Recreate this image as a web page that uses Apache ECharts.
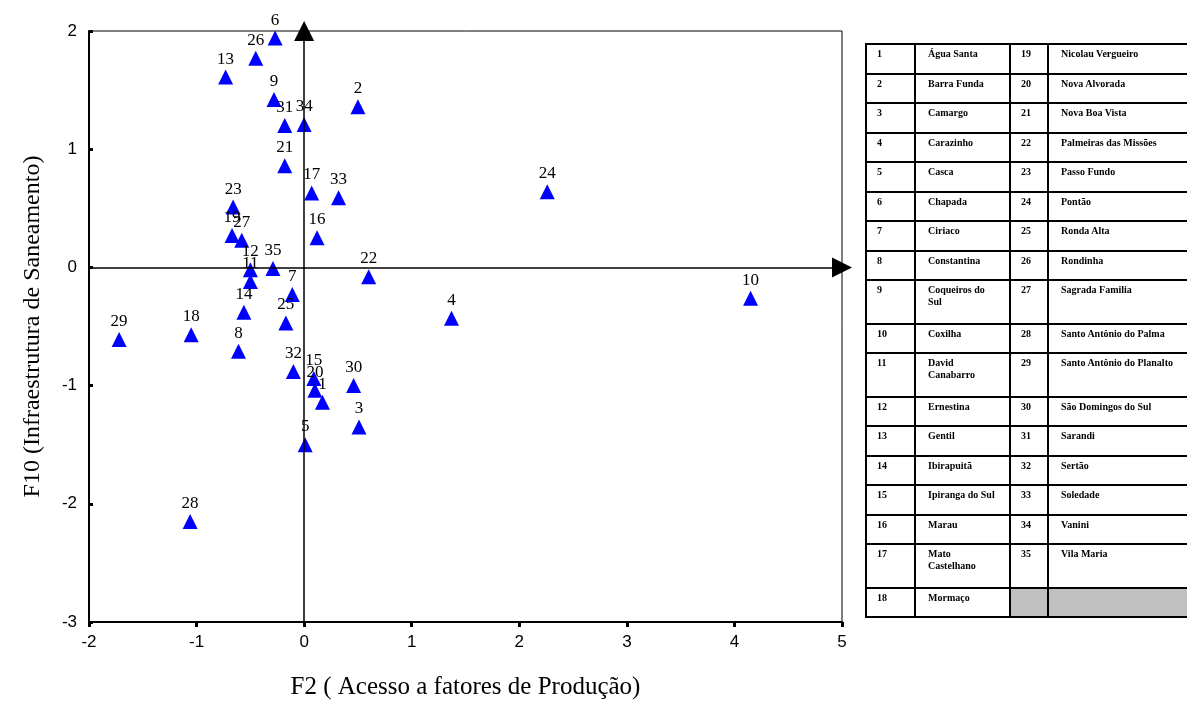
<!DOCTYPE html>
<html>
<head>
<meta charset="utf-8">
<script src="https://cdn.jsdelivr.net/npm/echarts@6/dist/echarts.min.js"></script>
<style>
  html, body { margin: 0; padding: 0; background: #fff; overflow: hidden; }
  #chart { position: absolute; left: 0; top: 0; width: 1187px; height: 725px; }
  #legend {
    position: absolute; left: 865px; top: 43px; width: 335px;
    border-collapse: collapse; table-layout: fixed;
    font-family: "Liberation Serif", "DejaVu Serif", serif; font-weight: bold; font-size: 10px;
    color: #000;
  }
  #legend td { border: 2px solid #000; vertical-align: top; padding: 3px 0 0 10px; line-height: 12px; }
  #legend td.name { padding-left: 12px; padding-right: 12px; }
  #legend td.empty { background: #c0c0c0; }
</style>
</head>
<body>
<div id="chart"></div>
<table id="legend"></table>
<script>
// Municipality numbers and their factor scores
const ids = ['1','2','3','4','5','6','7','8','9','10','11','12','13','14','15','16','17','18',
             '19','20','21','22','23','24','25','26','27','28','29','30','31','32','33','34','35'];
const f2Values = [0.17, 0.50, 0.51, 1.37, 0.01, -0.27, -0.11, -0.61, -0.28, 4.15, -0.50, -0.50,
                  -0.73, -0.56, 0.09, 0.12, 0.07, -1.05, -0.67, 0.10, -0.18, 0.60, -0.66, 2.26,
                  -0.17, -0.45, -0.58, -1.06, -1.72, 0.46, -0.18, -0.10, 0.32, 0.00, -0.29];
const f10Values = [-1.14, 1.36, -1.35, -0.43, -1.50, 1.94, -0.23, -0.71, 1.42, -0.26, -0.12, -0.02,
                   1.61, -0.38, -0.94, 0.25, 0.63, -0.57, 0.27, -1.04, 0.86, -0.08, 0.51, 0.64,
                   -0.47, 1.77, 0.23, -2.15, -0.61, -1.00, 1.20, -0.88, 0.59, 1.21, -0.01];

// Municipality names, by number
const names = ['Água Santa','Barra Funda','Camargo','Carazinho','Casca','Chapada','Ciriaco',
  'Constantina','Coqueiros do Sul','Coxilha','David Canabarro','Ernestina','Gentil','Ibirapuitã',
  'Ipiranga do Sul','Marau','Mato Castelhano','Mormaço','Nicolau Vergueiro','Nova Alvorada',
  'Nova Boa Vista','Palmeiras das Missões','Passo Fundo','Pontão','Ronda Alta','Rondinha',
  'Sagrada Familia','Santo Antônio do Palma','Santo Antônio do Planalto','São Domingos do Sul',
  'Sarandi','Sertão','Soledade','Vanini','Vila Maria'];

// Axis ranges and tick step
const xTicks = { min: -2, max: 5, step: 1 };
const yTicks = { min: -3, max: 2, step: 1 };

// Name table: two number/name column pairs
(function buildTable() {
  const table = document.getElementById('legend');
  const colgroup = document.createElement('colgroup');
  [49, 95, 38, 153].forEach(w => {
    const c = document.createElement('col'); c.style.width = w + 'px'; colgroup.appendChild(c);
  });
  table.appendChild(colgroup);
  const tall = new Set([8, 10, 16]); // rows whose names wrap onto two lines
  for (let r = 0; r < 18; r++) {
    const tr = document.createElement('tr');
    tr.style.height = (tall.has(r) ? 43.5 : 29.5) + 'px';
    const cells = [[ids[r], 'num'], [names[r], 'name']];
    if (r + 18 < ids.length) cells.push([ids[r + 18], 'num'], [names[r + 18], 'name']);
    cells.forEach(([t, cls]) => {
      const td = document.createElement('td'); td.className = cls; td.textContent = t; tr.appendChild(td);
    });
    if (r + 18 >= ids.length) {
      for (let k = 0; k < 2; k++) { const td = document.createElement('td'); td.className = 'empty'; tr.appendChild(td); }
    }
    table.appendChild(tr);
  }
})();

const chart = echarts.init(document.getElementById('chart'), null, { renderer: 'canvas' });
const points = ids.map((id, i) => ({ name: id, value: [f2Values[i], f10Values[i]] }));

const serif = '"Liberation Serif", "Times New Roman", serif';
const sans = '"Liberation Sans", Arial, sans-serif';

chart.setOption({
  animation: false,
  grid: { left: 89, right: 345, top: 31, bottom: 103, show: true, borderColor: '#000', borderWidth: 1 },
  xAxis: {
    type: 'value', min: xTicks.min, max: xTicks.max, interval: xTicks.step,
    name: 'F2 ( Acesso a fatores de Produção)', nameLocation: 'middle', nameGap: 53,
    nameTextStyle: { fontFamily: serif, fontSize: 25, color: '#000' },
    axisLine: { onZero: false, lineStyle: { color: '#000', width: 2 } },
    axisTick: { show: true, inside: false, length: 5, lineStyle: { color: '#000', width: 3 } },
    axisLabel: { fontFamily: sans, fontSize: 17, color: '#000', margin: 12 },
    splitLine: { show: false }
  },
  yAxis: {
    type: 'value', min: yTicks.min, max: yTicks.max, interval: yTicks.step,
    name: 'F10 (Infraestrutura de Saneamento)', nameLocation: 'middle', nameGap: 44,
    nameTextStyle: { fontFamily: serif, fontSize: 24, color: '#000' },
    axisLine: { onZero: false, lineStyle: { color: '#000', width: 2 } },
    axisTick: { show: true, inside: true, length: 4, lineStyle: { color: '#000', width: 3 } },
    axisLabel: { fontFamily: sans, fontSize: 17, color: '#000', margin: 12 },
    splitLine: { show: false }
  },
  series: [{
    type: 'scatter',
    symbol: 'triangle',
    symbolSize: 15,
    itemStyle: { color: '#0000ff', opacity: 1 },
    label: {
      show: true, position: 'top', distance: 2,
      formatter: p => p.name,
      fontFamily: serif, fontSize: 17, color: '#000'
    },
    emphasis: { disabled: true },
    data: points,
    markLine: {
      silent: true,
      clip: false,
      symbol: ['none', 'triangle'],
      symbolSize: 20,
      label: { show: false },
      lineStyle: { color: '#000', width: 1.5, type: 'solid', opacity: 1 },
      itemStyle: { color: '#000' },
      emphasis: { disabled: true },
      data: [
        [{ coord: [xTicks.min, 0] }, { coord: [xTicks.max, 0] }],
        [{ coord: [0, yTicks.min] }, { coord: [0, yTicks.max] }]
      ]
    }
  }]
});
</script>
</body>
</html>
